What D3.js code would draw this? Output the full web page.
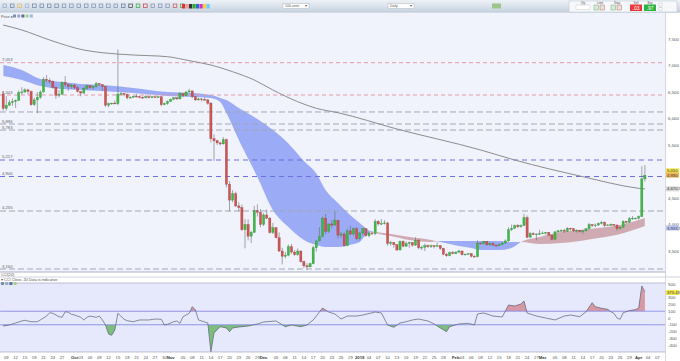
<!DOCTYPE html>
<html><head><meta charset="utf-8">
<script src="https://cdn.jsdelivr.net/npm/d3@7"></script>
<style>
body{margin:0;background:#fff;font-family:"Liberation Sans",Arial,sans-serif;}
svg{display:block}
</style></head><body>
<svg id="c" width="680" height="361"></svg>
<script>
// ---------------- DATA ----------------
const startDate = "2018-09-08";
// daily [open, high, low, close]
const ohlc = [
// Sep 8-30
[6460,6520,6150,6190],[6190,6420,6150,6250],[6250,6350,6240,6300],[6300,6380,6240,6320],[6320,6360,6200,6340],
[6340,6530,6330,6490],[6490,6590,6450,6500],[6500,6570,6480,6540],[6540,6560,6450,6510],[6510,6530,6240,6260],
[6260,6390,6240,6350],[6350,6500,6100,6400],[6400,6530,6370,6500],[6500,6780,6490,6740],[6740,6820,6680,6720],
[6720,6760,6660,6700],[6700,6720,6560,6590],[6590,6600,6370,6440],[6440,6540,6400,6460],[6460,6700,6440,6680],
[6680,6800,6600,6640],[6640,6660,6520,6600],[6600,6650,6560,6630],
// Oct
[6630,6660,6550,6580],[6580,6610,6490,6510],[6510,6520,6420,6480],[6480,6600,6470,6570],[6570,6640,6540,6620],
[6620,6630,6560,6580],[6580,6620,6550,6600],[6600,6690,6590,6660],[6660,6670,6610,6640],[6640,6650,6520,6600],
[6600,6610,6220,6250],[6250,6300,6210,6280],[6280,6300,6260,6290],[6290,6340,6270,6280],[6280,7300,6250,6460],
[6460,6500,6440,6470],[6470,6480,6420,6450],[6450,6470,6360,6390],[6390,6420,6380,6400],[6400,6430,6390,6420],
[6420,6460,6400,6410],[6410,6430,6380,6400],[6400,6420,6370,6390],[6390,6450,6380,6410],[6410,6420,6380,6400],
[6400,6430,6390,6410],[6410,6420,6390,6400],[6400,6420,6390,6410],[6410,6420,6230,6260],[6260,6300,6250,6280],
[6280,6340,6260,6320],
// Nov
[6320,6380,6310,6360],[6360,6400,6350,6390],[6390,6400,6350,6370],[6370,6500,6360,6470],[6470,6480,6400,6430],
[6430,6520,6420,6500],[6500,6560,6490,6520],[6520,6530,6380,6410],[6410,6420,6330,6350],[6350,6390,6340,6370],
[6370,6380,6320,6360],[6360,6400,6330,6350],[6350,6370,6260,6290],[6290,6310,5550,5620],[5620,5700,5200,5580],
[5580,5600,5500,5540],[5540,5560,5490,5520],[5520,5650,5510,5600],[5600,5620,4700,4760],[4760,4820,4250,4460],
[4460,4650,4420,4580],[4580,4620,4330,4350],[4350,4420,4250,4320],[4320,4380,3880,3900],[3900,4100,3550,4000],
[4000,4100,3700,3780],[3780,3880,3650,3850],[3850,4350,3840,4260],[4260,4380,4150,4230],[4230,4290,3950,4000],
// Dec
[4000,4220,3970,4180],[4180,4280,4100,4120],[4120,4140,3830,3850],[3850,4030,3820,3940],[3940,3950,3740,3750],
[3750,3850,3480,3500],[3500,3560,3250,3400],[3400,3480,3360,3420],[3420,3620,3400,3580],[3580,3630,3450,3480],
[3480,3520,3410,3430],[3430,3550,3410,3500],[3500,3510,3280,3300],[3300,3320,3180,3220],[3220,3270,3150,3200],
[3200,3280,3190,3260],[3260,3600,3250,3560],[3560,3700,3490,3690],[3690,3950,3680,3770],[3770,4150,3760,4120],
[4120,4200,3820,3870],[3870,4020,3840,4010],[4010,4080,3930,3990],[3990,4250,3980,4080],[4080,4090,3740,3800],
[3800,3860,3750,3820],[3820,3850,3580,3600],[3600,3920,3590,3880],[3880,3980,3800,3820],[3820,3940,3790,3920],
[3920,3950,3700,3730],
// Jan
[3730,3860,3700,3840],[3840,3930,3800,3920],[3920,3930,3770,3790],[3790,3860,3760,3840],[3840,3880,3800,3830],
[3830,4100,3800,4060],[4060,4080,3980,4010],[4010,4100,3990,4020],[4020,4080,4000,4030],[4030,4050,3600,3640],
[3640,3690,3600,3660],[3660,3670,3560,3620],[3620,3630,3500,3520],[3520,3700,3510,3680],[3680,3700,3570,3590],
[3590,3680,3580,3640],[3640,3680,3560,3660],[3660,3670,3580,3610],[3610,3760,3600,3700],[3700,3720,3530,3560],
[3560,3600,3520,3570],[3570,3640,3500,3600],[3600,3620,3560,3580],[3580,3620,3560,3600],[3600,3610,3550,3590],
[3590,3660,3580,3600],[3600,3610,3520,3550],[3550,3560,3420,3440],[3440,3460,3390,3410],[3410,3490,3400,3470],
[3470,3500,3440,3450],
// Feb
[3450,3490,3440,3480],[3480,3520,3460,3500],[3500,3510,3420,3430],[3430,3450,3420,3440],[3440,3460,3430,3450],
[3450,3460,3380,3400],[3400,3420,3380,3390],[3390,3700,3380,3650],[3650,3660,3620,3640],[3640,3690,3620,3680],
[3680,3690,3600,3620],[3620,3660,3590,3640],[3640,3660,3600,3610],[3610,3630,3580,3600],[3600,3650,3590,3620],
[3620,3670,3610,3650],[3650,3720,3630,3690],[3690,3950,3680,3900],[3900,4000,3880,3930],[3930,4000,3910,3980],
[3980,4010,3930,3960],[3960,4000,3940,3980],[3980,4200,3970,4130],[4130,4170,3740,3760],[3760,3860,3750,3830],
[3830,3850,3800,3810],[3810,3840,3700,3820],[3820,3900,3800,3830],
// Mar
[3830,3870,3820,3840],[3840,3860,3810,3850],[3850,3860,3790,3800],[3800,3810,3700,3720],[3720,3880,3710,3860],
[3860,3900,3840,3880],[3880,3910,3860,3890],[3890,3920,3840,3870],[3870,3950,3860,3930],[3930,3940,3880,3920],
[3920,3930,3860,3880],[3880,3910,3850,3890],[3890,3900,3850,3870],[3870,3900,3820,3880],[3880,3930,3870,3920],
[3920,4030,3910,4000],[4000,4010,3950,3980],[3980,4020,3950,3990],[3990,4040,3970,4020],[4020,4070,4000,4040],
[4040,4060,3950,3980],[3980,4010,3970,3990],[3990,4020,3980,4000],[4000,4010,3970,3990],[3990,4000,3880,3920],
[3920,3960,3900,3950],[3950,4080,3940,4060],[4060,4070,4020,4040],[4040,4140,4030,4110],[4110,4160,4090,4120],
[4120,4130,4100,4120],
// Apr
[4120,4170,4090,4150],[4150,5100,4140,4860],[4860,5120,4810,4930]
];

// Ichimoku cloud (leading spans)
const cloudDates = ["2018-09-08","2018-09-14","2018-09-20","2018-09-27","2018-10-03","2018-10-10","2018-10-20","2018-10-31",
 "2018-11-08","2018-11-14","2018-11-17","2018-11-19","2018-11-23","2018-11-29","2018-12-04","2018-12-09","2018-12-14",
 "2018-12-18","2018-12-21","2018-12-25","2018-12-30","2019-01-01","2019-01-03","2019-01-05","2019-01-11","2019-01-17",
 "2019-01-24","2019-01-27","2019-02-02","2019-02-06","2019-02-09","2019-02-15","2019-02-19","2019-02-22","2019-02-28",
 "2019-03-07","2019-03-13","2019-03-19","2019-03-26","2019-04-03"];
const spanA = [6802,6726,6613,6557,6538,6519,6481,6425,6406,6387,6311,6104,5594,4896,4274,3953,3708,
 3613,3575,3575,3630,3670,3802,3858,3821,3764,3708,3670,3594,3557,3519,3519,3557,3670,3764,3858,3896,3934,3991,4123];
const spanB = [7009,6915,6745,6689,6651,6632,6575,6500,6481,6443,6387,6349,6198,5990,5783,5528,5198,
 4962,4651,4406,4123,4030,3930,3858,3783,3708,3670,3689,3689,3689,3689,3689,3670,3670,3632,3651,3689,3745,3821,3972];

// 200-day moving average
const maDates = ["2018-09-08","2018-09-14","2018-09-23","2018-10-04","2018-10-10","2018-10-20","2018-10-31","2018-11-07",
 "2018-11-14","2018-11-21","2018-11-28","2018-12-04","2018-12-12","2018-12-18","2018-12-25","2019-01-13","2019-02-09",
 "2019-02-20","2019-03-14","2019-04-01","2019-04-03"];
const maValues = [7764,7670,7481,7292,7241,7198,7166,7091,7009,6883,6726,6538,6317,6192,6109,5802,5406,5217,4902,4683,4670];

// horizontal levels
const levelValues = [7053,6443,6123,5896,5783,5217,4906,4255,3160];
const levelLabels = ["7,053","6,443","","5,896","5,783","5,217","4,906","4,255","3,160"];
const levelKinds = ["red","red","gray","gray","gray","blue","blue","gray","gray"];

// CCI(20)
const cciDates = ["2018-09-08","2018-09-10","2018-09-12","2018-09-14","2018-09-15","2018-09-17","2018-09-19","2018-09-20",
"2018-09-22","2018-09-23","2018-09-24","2018-09-26","2018-09-27","2018-09-28","2018-09-29","2018-09-30","2018-10-01",
"2018-10-03","2018-10-04","2018-10-05","2018-10-06","2018-10-08","2018-10-09","2018-10-10","2018-10-11","2018-10-12",
"2018-10-13","2018-10-14","2018-10-15","2018-10-17","2018-10-18","2018-10-20","2018-10-22","2018-10-25","2018-10-27",
"2018-10-29","2018-10-30","2018-10-31","2018-11-02","2018-11-03","2018-11-04","2018-11-05","2018-11-07","2018-11-08",
"2018-11-09","2018-11-10","2018-11-12","2018-11-13","2018-11-14","2018-11-15","2018-11-17","2018-11-19","2018-11-20",
"2018-11-21","2018-11-23","2018-11-26","2018-11-29","2018-12-01","2018-12-05","2018-12-08","2018-12-10","2018-12-13",
"2018-12-15","2018-12-17","2018-12-18","2018-12-20","2018-12-22","2018-12-24","2018-12-26","2018-12-28","2018-12-31",
"2019-01-02","2019-01-06","2019-01-08","2019-01-10","2019-01-12","2019-01-14","2019-01-16","2019-01-18","2019-01-20",
"2019-01-23","2019-01-25","2019-01-27","2019-01-29","2019-01-30","2019-02-02","2019-02-05","2019-02-07","2019-02-08",
"2019-02-10","2019-02-13","2019-02-16","2019-02-18","2019-02-20","2019-02-22","2019-02-23","2019-02-24","2019-02-27",
"2019-03-02","2019-03-05","2019-03-08","2019-03-10","2019-03-13","2019-03-15","2019-03-17","2019-03-18","2019-03-20",
"2019-03-22","2019-03-23","2019-03-24","2019-03-25","2019-03-26","2019-03-27","2019-03-29","2019-03-31","2019-04-01",
"2019-04-02","2019-04-03"];
const cciValues = [-118,-103,-74,-44,-34,-55,-55,-29,
29,78,69,19,10,93,84,55,44,
10,-29,10,29,10,29,-29,-103,-236,
-255,-177,69,-19,-40,-55,-29,-29,-15,
-19,-103,-93,-55,-44,-78,19,69,167,
118,-29,-59,-74,-497,-221,-128,-147,-202,
-147,-133,-118,-88,-59,-44,-128,-103,-128,
-103,-29,29,147,88,59,-15,29,29,
44,88,74,-103,-137,-74,-55,-29,-15,
-44,-88,-147,-202,-128,-88,-78,-103,59,
74,29,15,192,177,206,251,74,29,
0,-29,29,44,19,93,226,167,143,
128,93,69,0,-19,78,109,124,147,
472,388];

// axis ticks
const priceTicks = [3500,4000,4500,5000,5500,6000,6500,7000,7500];
const cciTicks = [500,300,200,100,0,-100,-200,-300,-400];
const monthNames = ["2019","Feb","Mar","Apr","May","Jun","Jul","Aug","Sep","Oct","Nov","Dec"];

// right-axis value flags
const flagValues = [5010,4930,4670.5,3933.5];
const flagTexts = ["5,010","4,930","4,670.5","3,933.5"];
const flagColors = ["#f3e54a","#f0b35a","#d9d9d9","#b9c4f7"];

// ---------------- DRAW ----------------
const parse = d3.utcParse("%Y-%m-%d");
const svg = d3.select("#c");
const W = 680, H = 361;
const plotR = 665, mainTop = 13, mainBot = 272, cciTop = 283, cciBot = 352;

const x = d3.scaleUtc().domain([parse("2018-09-08"), parse("2019-04-09")]).range([3.2, 663.5]);
const y = d3.scaleLinear().domain([5000, 7500]).range([171.5, 39]);
const yc = d3.scaleLinear().domain([0, 500]).range([318, 284.1]);

svg.append("rect").attr("width", W).attr("height", H).attr("fill", "#ffffff");

// main panel background
svg.append("rect").attr("x", 0).attr("y", mainTop).attr("width", plotR).attr("height", mainBot - mainTop).attr("fill", "#f0f2fc");
// cci panel
svg.append("rect").attr("x", 0).attr("y", cciTop).attr("width", plotR).attr("height", cciBot - cciTop).attr("fill", "#e5e9fb");

const defs = svg.append("defs");
defs.append("clipPath").attr("id", "mainClip").append("rect").attr("x", 0).attr("y", mainTop).attr("width", plotR).attr("height", mainBot - mainTop);
defs.append("clipPath").attr("id", "cciClip").append("rect").attr("x", 0).attr("y", cciTop).attr("width", plotR).attr("height", cciBot - cciTop);

const main = svg.append("g").attr("clip-path", "url(#mainClip)");

// ---- cloud ----
const cloud = cloudDates.map((d, i) => ({d: parse(d), a: spanA[i], b: spanB[i]}));
const curve = d3.curveMonotoneX;
defs.append("clipPath").attr("id", "belowA").append("path")
  .attr("d", d3.area().curve(curve).x(d => x(d.d)).y0(mainBot + 50).y1(d => y(d.a))(cloud));
defs.append("clipPath").attr("id", "aboveA").append("path")
  .attr("d", d3.area().curve(curve).x(d => x(d.d)).y0(0).y1(d => y(d.a))(cloud));
// A above B -> rose
main.append("path").attr("clip-path", "url(#belowA)")
  .attr("d", d3.area().curve(curve).x(d => x(d.d)).y0(0).y1(d => y(d.b))(cloud))
  .attr("fill", "#c99ea5").attr("opacity", 0.85);
// B above A -> blue
main.append("path").attr("clip-path", "url(#aboveA)")
  .attr("d", d3.area().curve(curve).x(d => x(d.d)).y0(mainBot + 50).y1(d => y(d.b))(cloud))
  .attr("fill", "#8c9ff3").attr("opacity", 0.85);

// ---- levels ----
const levelStyle = {
  red: {stroke: "#e89aa6", dash: "4,3", w: 1},
  gray: {stroke: "#a3a6b6", dash: "6,3", w: 1},
  blue: {stroke: "#6f6fe0", dash: "5,4", w: 1.2}
};
levelValues.forEach((v, i) => {
  const s = levelStyle[levelKinds[i]];
  main.append("line").attr("x1", 0).attr("x2", plotR).attr("y1", y(v)).attr("y2", y(v))
    .attr("stroke", s.stroke).attr("stroke-width", s.w).attr("stroke-dasharray", s.dash);
  if (levelLabels[i]) main.append("text").attr("x", 2).attr("y", y(v) - 1.5).text(levelLabels[i])
    .attr("font-size", 4.2).attr("fill", "#666");
});

// ---- moving average ----
const ma = maDates.map((d, i) => ({d: parse(d), v: maValues[i]}));
main.append("path").attr("d", d3.line().curve(d3.curveMonotoneX).x(d => x(d.d)).y(d => y(d.v))(ma))
  .attr("fill", "none").attr("stroke", "#8d8d8d").attr("stroke-width", 1);

// ---- candles ----
const candles = ohlc.map((c, i) => ({d: d3.utcDay.offset(parse(startDate), i), o: c[0], h: c[1], l: c[2], c: c[3]}));
const bw = 2.2;
const cg = main.append("g");
cg.selectAll("line").data(candles).join("line")
  .attr("x1", d => x(d.d)).attr("x2", d => x(d.d))
  .attr("y1", d => y(d.h)).attr("y2", d => y(d.l))
  .attr("stroke", "#6b6b6b").attr("stroke-width", 0.6);
cg.selectAll("rect").data(candles).join("rect")
  .attr("x", d => x(d.d) - bw / 2).attr("width", bw)
  .attr("y", d => y(Math.max(d.o, d.c)))
  .attr("height", d => Math.max(0.8, Math.abs(y(d.o) - y(d.c))))
  .attr("fill", d => d.c >= d.o ? "#3fb846" : "#cd5552")
  .attr("stroke", d => d.c >= d.o ? "#2d8a33" : "#9c3a38").attr("stroke-width", 0.3);

// main panel border lines
svg.append("line").attr("x1", 0).attr("x2", plotR).attr("y1", mainBot).attr("y2", mainBot).attr("stroke", "#9aa0b5").attr("stroke-width", 0.8);
svg.append("line").attr("x1", 0).attr("x2", W).attr("y1", 277).attr("y2", 277).attr("stroke", "#b5bacb").attr("stroke-width", 0.6);
svg.append("line").attr("x1", 0).attr("x2", plotR).attr("y1", cciTop).attr("y2", cciTop).attr("stroke", "#9aa0b5").attr("stroke-width", 0.6);
svg.append("line").attr("x1", 0).attr("x2", plotR).attr("y1", cciBot).attr("y2", cciBot).attr("stroke", "#9aa0b5").attr("stroke-width", 0.6);

// ---- CCI ----
const cg2 = svg.append("g").attr("clip-path", "url(#cciClip)");
const cci = cciDates.map((d, i) => ({d: parse(d), v: cciValues[i]}));
defs.append("clipPath").attr("id", "above100").append("rect").attr("x", 0).attr("y", 0).attr("width", plotR).attr("height", yc(100));
defs.append("clipPath").attr("id", "below100").append("rect").attr("x", 0).attr("y", yc(-100)).attr("width", plotR).attr("height", 100);
cg2.append("path").attr("clip-path", "url(#above100)")
  .attr("d", d3.area().x(d => x(d.d)).y0(yc(100)).y1(d => yc(d.v))(cci)).attr("fill", "#d69aa4");
cg2.append("path").attr("clip-path", "url(#below100)")
  .attr("d", d3.area().x(d => x(d.d)).y0(yc(-100)).y1(d => yc(d.v))(cci)).attr("fill", "#7dbd80");
[100, -100].forEach(v => cg2.append("line").attr("x1", 0).attr("x2", plotR).attr("y1", yc(v)).attr("y2", yc(v))
  .attr("stroke", "#8184e6").attr("stroke-width", 0.8));
cg2.append("path").attr("d", d3.line().x(d => x(d.d)).y(d => yc(d.v))(cci))
  .attr("fill", "none").attr("stroke", "#5b5f6e").attr("stroke-width", 0.7);

// ---- right axis ----
svg.append("line").attr("x1", plotR + 0.5).attr("x2", plotR + 0.5).attr("y1", mainTop).attr("y2", cciBot + 9).attr("stroke", "#c3c7d6").attr("stroke-width", 0.7);
const axG = svg.append("g").attr("font-size", 4.4).attr("fill", "#555");
priceTicks.forEach(v => axG.append("text").attr("x", 668).attr("y", y(v) + 1.5).text(d3.format(",")(v)));
cciTicks.forEach(v => axG.append("text").attr("x", 668).attr("y", yc(v) + 1.5).text(v));
flagValues.forEach((v, i) => {
  const yy = y(v);
  svg.append("rect").attr("x", 666).attr("y", yy - 2.6).attr("width", 13).attr("height", 5).attr("fill", flagColors[i]);
  svg.append("text").attr("x", 667).attr("y", yy + 1.5).text(flagTexts[i]).attr("font-size", 4.2).attr("fill", "#333");
});
svg.append("rect").attr("x", 666).attr("y", yc(375) - 2.6).attr("width", 13).attr("height", 5).attr("fill", "#f3e54a");
svg.append("text").attr("x", 667).attr("y", yc(375) + 1.5).text("375.43").attr("font-size", 4.2).attr("fill", "#333");

// ---- date axis ----
const dg = svg.append("g").attr("font-size", 4.2).attr("fill", "#555").attr("text-anchor", "middle");
const days = d3.utcDay.range(parse("2018-09-09"), parse("2019-04-09"));
const firsts = days.filter(d => d.getUTCDate() === 1);
days.forEach((d, i) => {
  if (d.getUTCDate() === 1) {
    dg.append("text").attr("x", x(d)).attr("y", 358.5).attr("font-weight", "bold").attr("fill", "#333")
      .text(monthNames[d.getUTCMonth()]);
  } else if (i % 3 === 0) {
    const near = firsts.some(f => Math.abs((d - f) / 864e5) <= 1);
    if (!near) dg.append("text").attr("x", x(d)).attr("y", 358.5).text(d3.utcFormat("%d")(d));
  }
});

// ---- panel headers ----
svg.append("text").attr("x", 1).attr("y", 17.5).text("Price ▸").attr("font-size", 3.8).attr("fill", "#555");
const hdrIcons = ["#7d8fb5", "#9aa9c9", "#5d6f99", "#a5d08a", "#9ab9e2"];
hdrIcons.forEach((c, i) => svg.append("rect").attr("x", 13 + i * 4.2).attr("y", 14.5).attr("width", 3).attr("height", 3).attr("fill", c));
svg.append("text").attr("x", 1).attr("y", 275.5).text("CCI(20)").attr("font-size", 3.8).attr("fill", "#555");
svg.append("text").attr("x", 1).attr("y", 280.5).text("▾ CCI Close, 20   Data is indicative").attr("font-size", 3.8).attr("fill", "#555");
hdrIcons.slice(0, 4).forEach((c, i) => svg.append("rect").attr("x", 1 + i * 4.2).attr("y", 282).attr("width", 3).attr("height", 3).attr("fill", c));

// ---- toolbar ----
const tg = defs.append("linearGradient").attr("id", "tb").attr("x1", 0).attr("x2", 0).attr("y1", 0).attr("y2", 1);
tg.append("stop").attr("offset", 0).attr("stop-color", "#eef2f7");
tg.append("stop").attr("offset", 1).attr("stop-color", "#c7d3e1");
svg.append("rect").attr("x", 0).attr("y", 0).attr("width", W).attr("height", 12).attr("fill", "url(#tb)");
svg.append("line").attr("x1", 0).attr("x2", W).attr("y1", 12.3).attr("y2", 12.3).attr("stroke", "#aab6c6").attr("stroke-width", 0.6);
const toolIcons = ["#8aa0c0","#6d7f9f","#e0b84a","#9fb0c8","#6d7f9f","#6d7f9f","#6d7f9f","#6d7f9f","#7a8bb0","#7a8bb0",
  "#7a8bb0","#7a8bb0","#7a8bb0","#7a8bb0","#7a8bb0","#7a8bb0","#5c6f96","#3c3c3c","#2fa33a","#d23b3b","#7a8bb0","#7a8bb0",
  "#7a8bb0","#c94a4a","#4a9a4a"];
toolIcons.forEach((c, i) => svg.append("rect").attr("x", 3 + i * 7.4).attr("y", 4).attr("width", 3.6).attr("height", 3.6)
  .attr("fill", "none").attr("stroke", c).attr("stroke-width", 0.7));
const colorSw = ["#d33","#e99","#333","#3a3","#36c","#c3c","#fc3","#6cf"];
colorSw.forEach((c, i) => svg.append("rect").attr("x", 182 + i * 3.5).attr("y", 4).attr("width", 3.2).attr("height", 4.5).attr("fill", c));
[[283, "100 units"], [388, "Daily"]].forEach(([bx, t]) => {
  svg.append("rect").attr("x", bx).attr("y", 3.5).attr("width", 26).attr("height", 5).attr("fill", "#fff").attr("stroke", "#9aa").attr("stroke-width", 0.4);
  svg.append("text").attr("x", bx + 2).attr("y", 7.3).text(t).attr("font-size", 3.5).attr("fill", "#555");
  svg.append("text").attr("x", bx + 21.5).attr("y", 7.3).text("▾").attr("font-size", 3.5).attr("fill", "#555");
});
svg.append("rect").attr("x", 492).attr("y", 3.5).attr("width", 9).attr("height", 5).attr("fill", "#9dc58a");
// trade ticket
svg.append("rect").attr("x", 569).attr("y", 1).attr("width", 108).attr("height", 11).attr("fill", "#f6f8fb").attr("stroke", "#b8c2cf").attr("stroke-width", 0.5);
[["Qty", 583], ["Limit", 600], ["Stop", 617], ["Sell", 636], ["Buy", 650]].forEach(([t, tx]) =>
  svg.append("text").attr("x", tx).attr("y", 3.8).text(t).attr("font-size", 3).attr("fill", "#555").attr("text-anchor", "middle"));
svg.append("rect").attr("x", 576).attr("y", 5).attr("width", 14).attr("height", 4.5).attr("fill", "#fff").attr("stroke", "#aaa").attr("stroke-width", 0.3);
[594, 600, 611, 617].forEach((bx, i) => svg.append("rect").attr("x", bx).attr("y", 5).attr("width", 4.5).attr("height", 5)
  .attr("fill", "#dfe5e0").attr("stroke", i % 2 ? "#c44" : "#4a4").attr("stroke-width", 0.4));
svg.append("rect").attr("x", 630).attr("y", 4.5).attr("width", 12).attr("height", 6.5).attr("fill", "#e8393b");
svg.append("text").attr("x", 636).attr("y", 9.5).text(".03").attr("font-size", 5).attr("fill", "#fff").attr("text-anchor", "middle");
svg.append("rect").attr("x", 644).attr("y", 4.5).attr("width", 12).attr("height", 6.5).attr("fill", "#2db240");
svg.append("text").attr("x", 650).attr("y", 9.5).text(".97").attr("font-size", 5).attr("fill", "#fff").attr("text-anchor", "middle");
svg.append("rect").attr("x", 659).attr("y", 3).attr("width", 3).attr("height", 3).attr("fill", "#fff").attr("stroke", "#999").attr("stroke-width", 0.3);
svg.append("rect").attr("x", 659).attr("y", 7.5).attr("width", 3).attr("height", 3).attr("fill", "#fff").attr("stroke", "#999").attr("stroke-width", 0.3);
</script>
</body></html>
